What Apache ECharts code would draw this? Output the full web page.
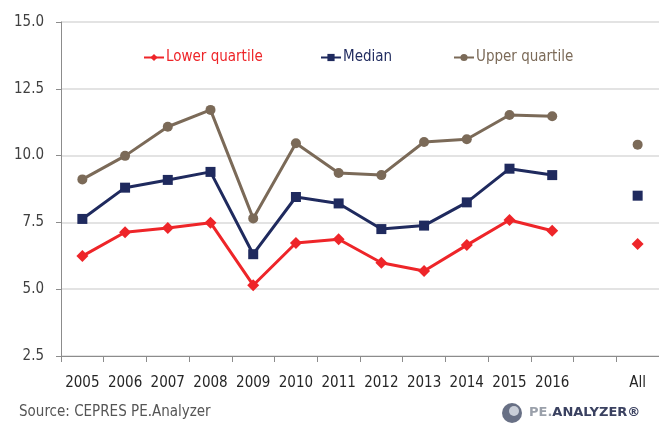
<!DOCTYPE html>
<html>
<head>
<meta charset="utf-8">
<script src="https://cdn.jsdelivr.net/npm/echarts@6/dist/echarts.min.js"></script>
<style>
html,body{margin:0;padding:0;background:#fff;}
#c{width:659px;height:425px;}
</style>
</head>
<body>
<div id="c"></div>
<script>
var categories = ['2005','2006','2007','2008','2009','2010','2011','2012','2013','2014','2015','2016','','All'];
var lowerQuartile = [6.24, 7.13, 7.29, 7.49, 5.15, 6.73, 6.87, 5.99, 5.68, 6.65, 7.59, 7.19, null, 6.69];
var median = [7.63, 8.80, 9.09, 9.39, 6.31, 8.45, 8.21, 7.25, 7.38, 8.25, 9.51, 9.27, null, 8.50];
var upperQuartile = [9.11, 9.99, 11.08, 11.71, 7.65, 10.46, 9.35, 9.27, 10.51, 10.61, 11.52, 11.47, null, 10.41];
var yTicks = {min: 2.5, max: 15, interval: 2.5};

// pick the narrowest installed sans font
var cv = document.createElement('canvas').getContext('2d');
function w(font, s) { cv.font = font; return cv.measureText(s).width; }
var candidates = ['Liberation Sans Narrow', 'Arial Narrow', 'DejaVu Sans Condensed', 'Liberation Sans', 'Arial'];
var chosen = 'sans-serif';
for (var i = 0; i < candidates.length; i++) {
  var f = candidates[i];
  if (w('100px "' + f + '", monospace', 'Lower quartile 2005') !== w('100px monospace', 'Lower quartile 2005')) { chosen = '"' + f + '"'; break; }
}
var FONT = chosen + ', sans-serif';
// size so that "2005" is about 35px wide, as in the reference
var fs = Math.round(Math.max(14, Math.min(18, 18 * 35 / w('18px ' + FONT, '2005'))));

var RED = '#EE2529', NAVY = '#1F2A5E', BROWN = '#7B6A58';

function legendItem(name, color, left) {
  return {
    left: left, top: 50, padding: 0,
    itemWidth: 20, itemHeight: 9,
    textStyle: {fontSize: fs, fontFamily: FONT, color: color, padding: [0, 0, 0, -3]},
    data: [name]
  };
}

var chart = echarts.init(document.getElementById('c'), null, {renderer: 'canvas'});
chart.setOption({
  animation: false,
  backgroundColor: '#fff',
  textStyle: {fontFamily: FONT},
  grid: {left: 61, top: 22, width: 606, height: 334, containLabel: false},
  legend: [
    legendItem('Lower quartile', RED, 143),
    legendItem('Median', NAVY, 320),
    legendItem('Upper quartile', BROWN, 453)
  ],
  xAxis: {
    type: 'category',
    data: categories,
    boundaryGap: true,
    axisLine: {lineStyle: {color: '#8c8c8c', width: 1}},
    axisTick: {show: true, length: 6, lineStyle: {color: '#8c8c8c'}},
    axisLabel: {color: '#262626', fontSize: fs, fontFamily: FONT, margin: 20, interval: 0}
  },
  yAxis: {
    type: 'value',
    min: yTicks.min, max: yTicks.max, interval: yTicks.interval,
    axisLine: {show: true, lineStyle: {color: '#8c8c8c', width: 1}},
    axisTick: {show: true, length: 5, lineStyle: {color: '#8c8c8c'}},
    splitLine: {show: true, lineStyle: {color: '#e3e3e3', width: 2}},
    axisLabel: {color: '#404040', fontSize: fs, fontFamily: FONT, margin: 17,
      formatter: function (v) { return v.toFixed(1); }}
  },
  series: [
    {
      name: 'Upper quartile', type: 'line', data: upperQuartile,
      symbol: 'circle', symbolSize: 10, connectNulls: false,
      itemStyle: {color: BROWN}, lineStyle: {color: BROWN, width: 3}, z: 2
    },
    {
      name: 'Median', type: 'line', data: median,
      symbol: 'rect', symbolSize: 10, connectNulls: false,
      itemStyle: {color: NAVY}, lineStyle: {color: NAVY, width: 3}, z: 3
    },
    {
      name: 'Lower quartile', type: 'line', data: lowerQuartile,
      symbol: 'diamond', symbolSize: 12, connectNulls: false,
      itemStyle: {color: RED}, lineStyle: {color: RED, width: 3}, z: 4
    }
  ],
  graphic: [
    {type: 'text', left: 19, top: 405,
      style: {text: 'Source: CEPRES PE.Analyzer', fill: '#555555', font: fs + 'px ' + FONT}},
    {type: 'circle', shape: {cx: 512, cy: 413, r: 10}, style: {fill: '#4d5770', opacity: 0.85}},
    {type: 'circle', shape: {cx: 514, cy: 411, r: 5}, style: {fill: '#c9ced8'}},
    {type: 'text', left: 529, top: 406,
      style: {rich: {a: {fill: '#9aa0aa', font: 'bold 13px "DejaVu Sans", sans-serif'}, b: {fill: '#3a4160', font: 'bold 13px "DejaVu Sans", sans-serif'}},
        text: '{a|PE.}{b|ANALYZER®}'}}
  ]
});
</script>
</body>
</html>
